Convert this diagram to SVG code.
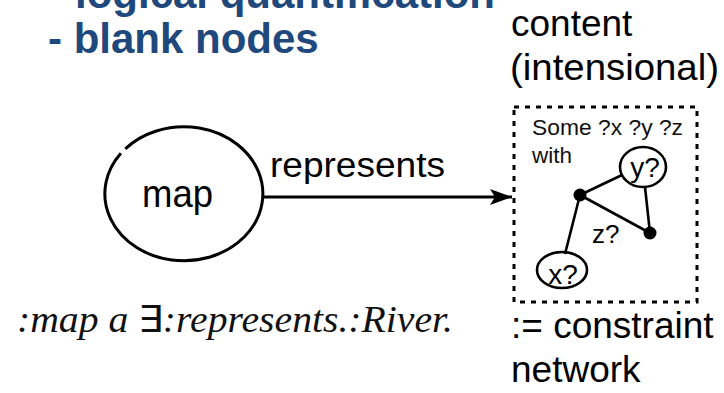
<svg xmlns="http://www.w3.org/2000/svg" width="724" height="393" viewBox="0 0 724 393">
  <style>
    .heading { font-family: "Liberation Sans", Arial, sans-serif; font-weight: bold; font-size: 42px; fill: #1F497D; }
    .label { font-family: "Liberation Sans", Arial, sans-serif; fill: #000; }
    .small { font-family: "Liberation Sans", Arial, sans-serif; font-size: 22.5px; fill: #111; }
    .formula { font-family: "Liberation Serif", "Times New Roman", serif; font-style: italic; font-size: 37px; fill: #111; }
    .line { stroke: #000; stroke-width: 3; fill: none; }
    .thin { stroke: #000; stroke-width: 2.6; fill: none; }
    .dot { fill: #000; }
  </style>
  <defs>
    <marker id="arrow" markerUnits="userSpaceOnUse" markerWidth="24" markerHeight="18" refX="22" refY="8" orient="auto">
      <path d="M0,0 L22,8 L0,16 L5,8 Z" fill="#000"/>
    </marker>
  </defs>

  <rect width="724" height="393" fill="#fff"/>

  <!-- bullet list headings -->
  <g id="bullets">
    <text class="heading" x="75" y="8">logical quantification</text>
    <text class="heading" x="48" y="53">- blank nodes</text>
  </g>

  <!-- content caption -->
  <g id="caption-content">
    <text class="label" x="511" y="36" font-size="37">content</text>
    <text class="label" x="510" y="80" font-size="37" textLength="209" lengthAdjust="spacingAndGlyphs">(intensional)</text>
  </g>

  <!-- map node -->
  <g id="node-map">
    <path class="line" d="M125.3,148.8 A79,67 0 1 1 120.9,153.3"/>
    <text class="label" x="142" y="207" font-size="39" textLength="71" lengthAdjust="spacingAndGlyphs">map</text>
  </g>

  <!-- connectors -->
  <g id="connectors">
    <line class="line" x1="263" y1="197" x2="512" y2="197" marker-end="url(#arrow)"/>
    <text class="label" x="270" y="177" font-size="35" textLength="175" lengthAdjust="spacingAndGlyphs">represents</text>
  </g>

  <!-- constraint network box -->
  <g id="node-network">
    <rect x="514" y="107" width="183" height="195" fill="none" stroke="#000" stroke-width="3" stroke-dasharray="5,6"/>
    <text class="small" x="532" y="135" textLength="151" lengthAdjust="spacingAndGlyphs">Some ?x ?y ?z</text>
    <text class="small" x="532" y="163">with</text>

    <g id="edges-inner">
      <line class="thin" x1="580" y1="195" x2="622" y2="175"/>
      <line class="thin" x1="580" y1="195" x2="650" y2="233"/>
      <line class="thin" x1="645" y1="187" x2="650" y2="233"/>
      <line class="thin" x1="580" y1="195" x2="565" y2="254"/>
    </g>

    <g id="var-y">
      <ellipse class="thin" cx="643" cy="167" rx="23" ry="20"/>
      <text class="label" x="645" y="177" font-size="28" text-anchor="middle" fill="#222">y?</text>
    </g>
    <g id="var-x">
      <ellipse class="thin" cx="562" cy="270" rx="25" ry="18"/>
      <text class="label" x="563" y="284" font-size="28" text-anchor="middle" fill="#222">x?</text>
    </g>
    <circle class="dot" cx="580" cy="195" r="6.5"/>
    <circle class="dot" cx="650" cy="233" r="6.5"/>
    <text class="label" x="592" y="243" font-size="26" fill="#3a3a3a">z?</text>
  </g>

  <!-- formula -->
  <g id="formula">
    <text class="formula" x="17" y="332" textLength="436" lengthAdjust="spacingAndGlyphs">:map a <tspan font-style="normal">∃</tspan>:represents.:River.</text>
  </g>

  <!-- constraint network caption -->
  <g id="caption-network">
    <text class="label" x="511" y="338" font-size="37">:= constraint</text>
    <text class="label" x="511" y="382" font-size="37">network</text>
  </g>
</svg>
